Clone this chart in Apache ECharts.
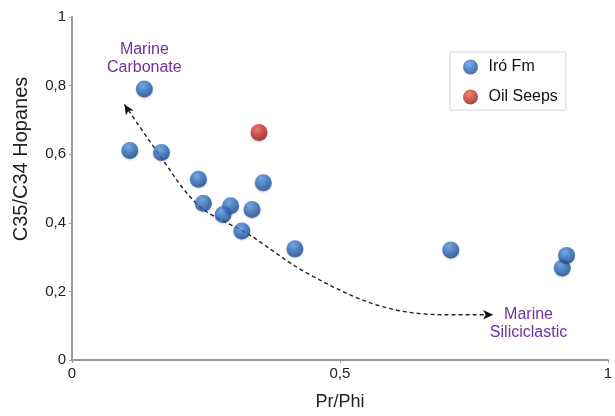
<!DOCTYPE html>
<html>
<head>
<meta charset="utf-8">
<script src="https://cdn.jsdelivr.net/npm/echarts@6/dist/echarts.min.js"></script>
<style>
  html, body { margin: 0; padding: 0; background: #fff; }
  #chart { width: 615px; height: 416px; }
</style>
</head>
<body>
<div id="chart"></div>
<script>
// Pr/Phi vs C35/C34 hopane ratio
const iroFmPrPhi    = [0.135, 0.108, 0.167, 0.236, 0.357, 0.245, 0.296, 0.282, 0.336, 0.317, 0.416, 0.707, 0.915, 0.923];
const iroFmHopanes  = [0.790, 0.611, 0.605, 0.527, 0.517, 0.457, 0.450, 0.424, 0.439, 0.376, 0.324, 0.321, 0.268, 0.305];
const seepsPrPhi    = [0.349];
const seepsHopanes  = [0.663];

// Trend arrow between the carbonate and siliciclastic ends
const trendX = [0.098, 0.157, 0.236, 0.328, 0.439, 0.574, 0.697, 0.786];
const trendY = [0.745, 0.612, 0.451, 0.368, 0.253, 0.158, 0.132, 0.132];

const yTicks = [0, 0.2, 0.4, 0.6, 0.8, 1];
const xTicks = [0, 0.5, 1];

const pair = (xs, ys) => xs.map((x, i) => [x, ys[i]]);
const comma = v => String(+v.toFixed(2)).replace('.', ',');

function sphere(light, mid, dark) {
  return {
    type: 'radial', x: 0.4, y: 0.3, r: 0.75,
    colorStops: [
      { offset: 0, color: light },
      { offset: 0.5, color: mid },
      { offset: 1, color: dark }
    ]
  };
}
const blueBall = sphere('#5f9de2', '#2f6cbf', '#1b4585');
const redBall = sphere('#e8675a', '#c8302a', '#861912');

const trendData = pair(trendX, trendY).map((p, i, arr) => {
  if (i === 0) return { value: p, symbol: 'arrow', symbolSize: [7, 10], symbolRotate: 32 };
  if (i === arr.length - 1) return { value: p, symbol: 'arrow', symbolSize: [7, 10], symbolRotate: -90 };
  return { value: p, symbol: 'none' };
});

const chart = echarts.init(document.getElementById('chart'));
chart.setOption({
  animation: false,
  backgroundColor: '#ffffff',
  textStyle: { fontFamily: 'Liberation Sans, Arial, sans-serif' },
  grid: { left: 72, right: 1, top: 17, bottom: 51 },
  xAxis: {
    type: 'value', min: xTicks[0], max: xTicks[xTicks.length - 1], interval: 0.5,
    name: 'Pr/Phi', nameLocation: 'middle', nameGap: 33,
    nameTextStyle: { fontSize: 18, color: '#222' },
    axisLine: { lineStyle: { color: '#9a9a9a', width: 2 } },
    axisTick: { show: true, length: 3, lineStyle: { color: '#9a9a9a' } },
    axisLabel: { fontSize: 15, color: '#222', margin: 6, formatter: comma },
    splitLine: { show: false }
  },
  yAxis: {
    type: 'value', min: yTicks[0], max: yTicks[yTicks.length - 1], interval: 0.2,
    axisLine: { show: true, lineStyle: { color: '#9a9a9a', width: 2 } },
    axisTick: { show: true, length: 3, lineStyle: { color: '#9a9a9a' } },
    axisLabel: { fontSize: 15, color: '#222', margin: 6, formatter: comma },
    splitLine: { show: false }
  },
  legend: {
    orient: 'vertical', left: 450, top: 52,
    padding: [7, 8, 5, 13],
    itemGap: 14, itemWidth: 16, itemHeight: 15,
    borderColor: '#d6d6d6', borderWidth: 1,
    textStyle: { fontSize: 16, color: '#111', padding: [0, 0, 0, 5] },
    data: [
      { name: 'Iró Fm', icon: 'circle' },
      { name: 'Oil Seeps', icon: 'circle' }
    ]
  },
  series: [
    {
      name: 'trend', type: 'line', smooth: 0.35,
      data: trendData,
      showSymbol: true,
      itemStyle: { color: '#111' },
      lineStyle: { color: '#222', width: 1.4, type: [4, 3] },
      silent: true, z: 1
    },
    {
      name: 'Iró Fm', type: 'scatter', symbolSize: 17,
      data: pair(iroFmPrPhi, iroFmHopanes),
      itemStyle: { color: blueBall, shadowBlur: 2, shadowColor: 'rgba(0,0,0,0.25)', shadowOffsetY: 1 },
      z: 3
    },
    {
      name: 'Oil Seeps', type: 'scatter', symbolSize: 17,
      data: pair(seepsPrPhi, seepsHopanes),
      itemStyle: { color: redBall, shadowBlur: 2, shadowColor: 'rgba(0,0,0,0.25)', shadowOffsetY: 1 },
      z: 3
    }
  ]
});

// Annotation texts anchored in data coordinates
const notes = [
  { text: 'Marine\nCarbonate', at: [0.135, 0.879] },
  { text: 'Marine\nSiliciclastic', at: [0.852, 0.105] }
];
const graphics = notes.map(n => {
  const p = chart.convertToPixel({ gridIndex: 0 }, n.at);
  return {
    type: 'text', x: p[0], y: p[1],
    style: {
      text: n.text, fill: '#7030a0', fontSize: 16, lineHeight: 18,
      fontFamily: 'Liberation Sans, Arial, sans-serif',
      align: 'center', verticalAlign: 'middle'
    }
  };
});
graphics.push({
  type: 'text', x: 21, y: 159, rotation: Math.PI / 2,
  style: {
    text: 'C35/C34 Hopanes', fill: '#222', fontSize: 20,
    fontFamily: 'Liberation Sans, Arial, sans-serif',
    align: 'center', verticalAlign: 'middle'
  }
});
chart.setOption({ graphic: graphics });
</script>
</body>
</html>
